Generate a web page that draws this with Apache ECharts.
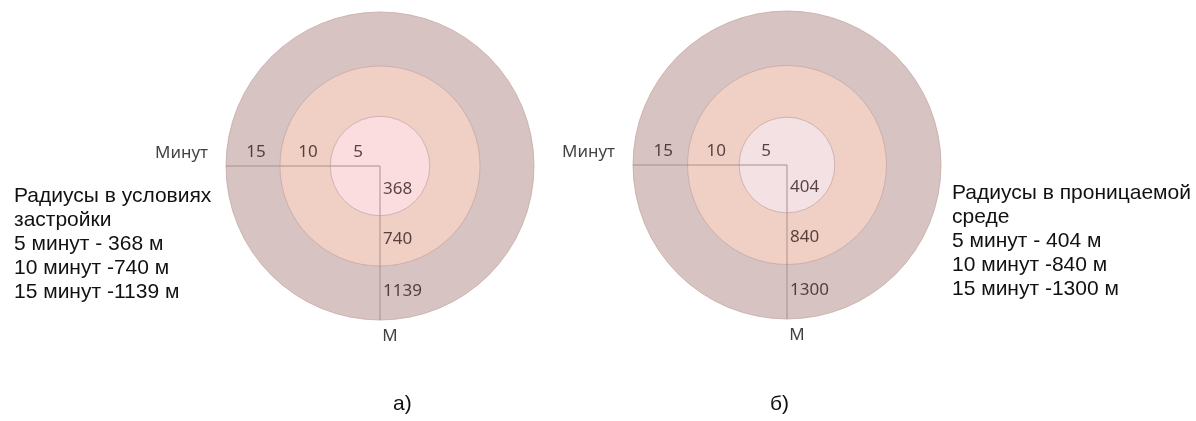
<!DOCTYPE html>
<html>
<head>
<meta charset="utf-8">
<script src="https://cdn.jsdelivr.net/npm/echarts@6/dist/echarts.min.js"></script>
<style>html,body{margin:0;padding:0;background:#fff;}#c{width:1196px;height:421px;}</style>
</head>
<body>
<div id="c"></div>
<script>
// ---- data ----
const minutes = [5, 10, 15];
const radiiA = [368, 740, 1139];
const radiiB = [404, 840, 1300];
const captionA = ['Радиусы в условиях', 'застройки', '5 минут - 368 м', '10 минут -740 м', '15 минут -1139 м'];
const captionB = ['Радиусы в проницаемой', 'среде', '5 минут - 404 м', '10 минут -840 м', '15 минут -1300 м'];
const axisNameMin = 'Минут';
const axisNameM = 'М';
const panelLabels = ['а)', 'б)'];

// ---- styles ----
const ringColorsA = ['#fbdde0', '#f0cfc4', '#d7c3c1'];
const ringColorsB = ['#f4e1e3', '#f0cfc4', '#d7c3c1'];
const lineColor = '#a8918e';
const ringBorder = '#c4aaa6';
const innerFont = "'Noto Sans', sans-serif";
const innerColor = '#2e1a1a';

const chart = echarts.init(document.getElementById('c'));

function panel(idx, radii, colors) {
  const R = radii[radii.length - 1];
  const series = [];
  const ringData = radii.map((r, i) => [r, i]).reverse();
  series.push({
    type: 'custom', xAxisIndex: idx, yAxisIndex: idx, z: 1, silent: true,
    data: ringData,
    renderItem: function (params, api) {
      const r = api.value(0), ci = api.value(1);
      const c = api.coord([0, 0]);
      const e = api.coord([r, 0]);
      return {
        type: 'circle',
        shape: { cx: c[0], cy: c[1], r: e[0] - c[0] },
        style: { fill: colors[ci], stroke: ringBorder, lineWidth: 0.8 }
      };
    }
  });
  series.push({
    type: 'line', xAxisIndex: idx, yAxisIndex: idx, z: 2, silent: true,
    symbol: 'none', animation: false,
    data: [[-R, 0], [0, 0], [0, -R]],
    lineStyle: { color: lineColor, width: 1 }
  });
  series.push({
    type: 'scatter', xAxisIndex: idx, yAxisIndex: idx, z: 3, silent: true,
    symbolSize: 0,
    data: radii.map((r, i) => ({ value: [-(r + (i ? radii[i - 1] : 0)) / 2, 0], name: String(minutes[i]) })),
    label: { show: true, position: 'top', distance: 5, offset: [3, 0], formatter: p => p.name,
      fontFamily: innerFont, fontSize: 17, color: innerColor }
  });
  series.push({
    type: 'scatter', xAxisIndex: idx, yAxisIndex: idx, z: 3, silent: true,
    symbolSize: 0,
    data: radii.map((r, i) => ({ value: [0, -(r + (i ? radii[i - 1] : 0)) / 2], name: String(r) })),
    label: { show: true, position: 'right', distance: 3, offset: [0, -2], formatter: p => p.name,
      fontFamily: innerFont, fontSize: 17, color: innerColor }
  });
  series.push({
    type: 'scatter', xAxisIndex: idx, yAxisIndex: idx, z: 3, silent: true,
    symbolSize: 0,
    data: [
      { value: [-R, 0], name: axisNameMin, label: { position: 'left', distance: 18, offset: [0, -13] } },
      { value: [0, -R], name: axisNameM, label: { position: 'bottom', distance: 8, offset: [10, 0] } }
    ],
    label: { show: true, formatter: p => p.name, fontFamily: innerFont, fontSize: 17, color: '#111' }
  });
  return series;
}

const captionStyle = { fontFamily: "'Liberation Sans', Arial, sans-serif", fontSize: 21, fontWeight: 'normal', color: '#111', lineHeight: 24 };

chart.setOption({
  animation: false,
  title: [
    { text: captionA.join('\n'), left: 9, top: 179, textStyle: captionStyle },
    { text: captionB.join('\n'), left: 947, top: 176, textStyle: captionStyle },
    { text: panelLabels[0], left: 388, top: 387, textStyle: captionStyle },
    { text: panelLabels[1], left: 765, top: 387, textStyle: captionStyle }
  ],
  grid: [
    { left: 226, top: 12, width: 308, height: 308 },
    { left: 633, top: 11, width: 308, height: 308 }
  ],
  xAxis: [
    { gridIndex: 0, type: 'value', min: -radiiA[2], max: radiiA[2], show: false },
    { gridIndex: 1, type: 'value', min: -radiiB[2], max: radiiB[2], show: false }
  ],
  yAxis: [
    { gridIndex: 0, type: 'value', min: -radiiA[2], max: radiiA[2], show: false },
    { gridIndex: 1, type: 'value', min: -radiiB[2], max: radiiB[2], show: false }
  ],
  series: panel(0, radiiA, ringColorsA).concat(panel(1, radiiB, ringColorsB))
});
</script>
</body>
</html>
